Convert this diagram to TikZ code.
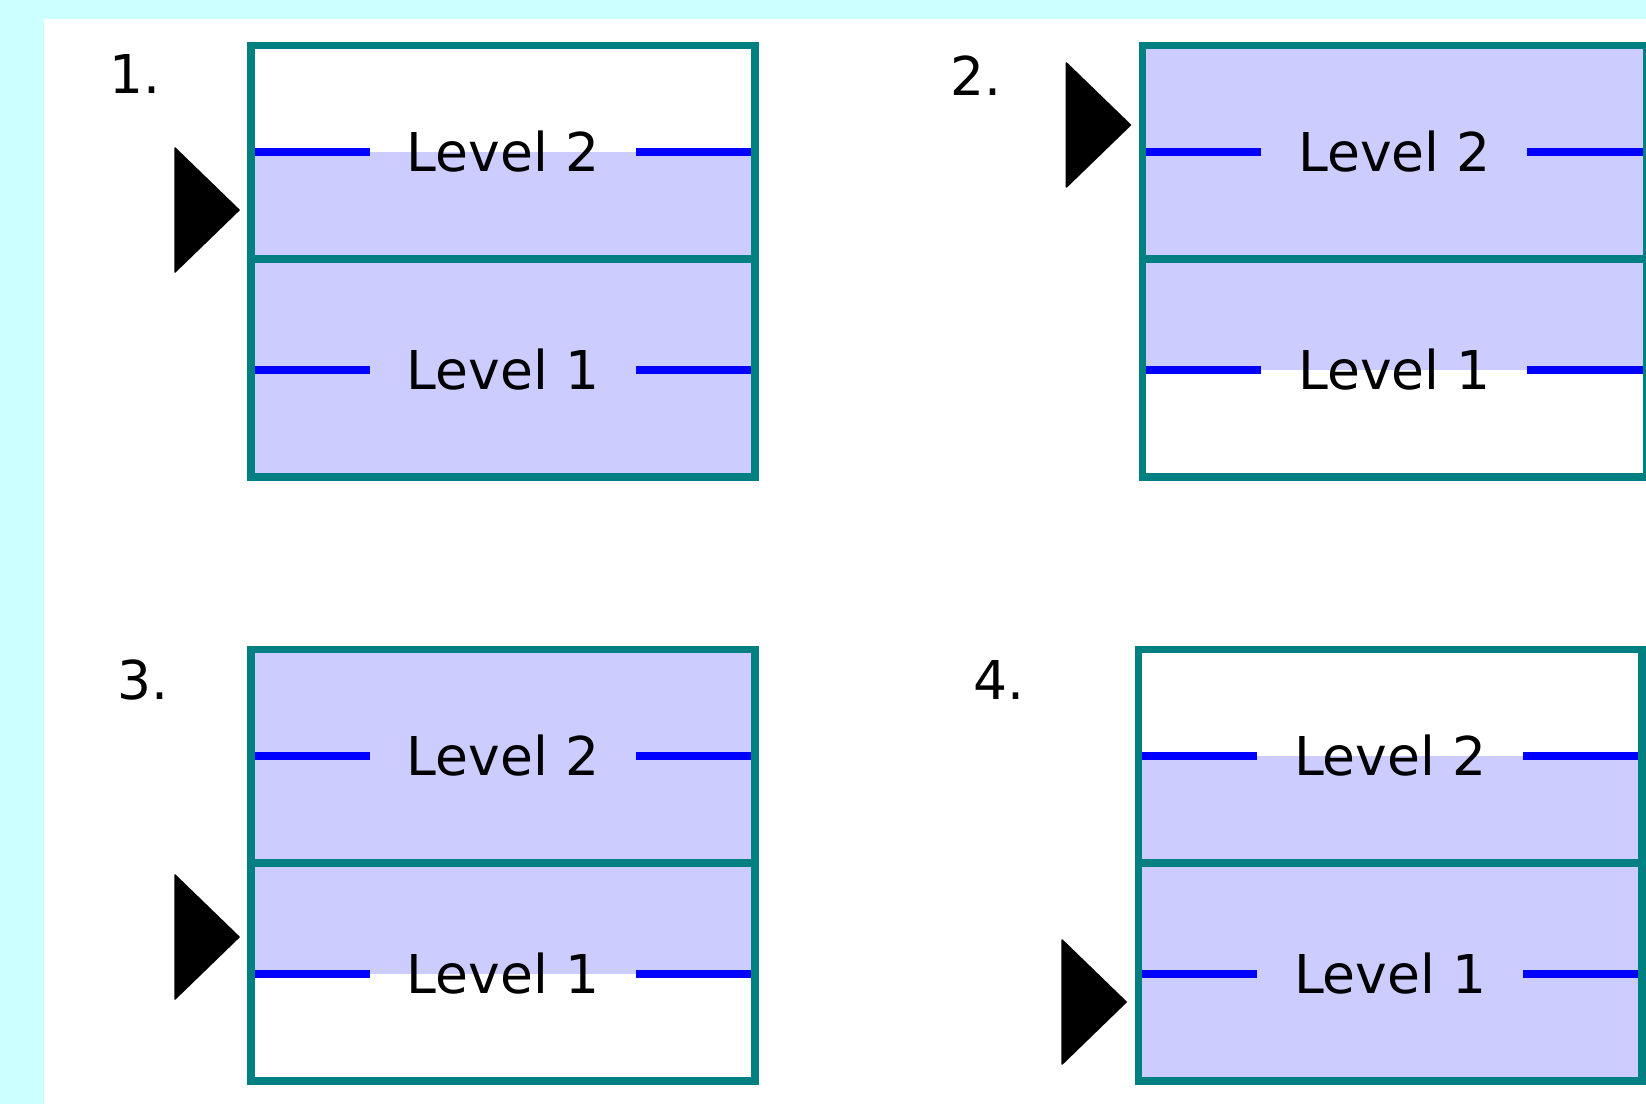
\documentclass[tikz,border=0pt]{standalone}
\usepackage{fontspec}
\setmainfont{DejaVu Sans}
\definecolor{bgcyan}{HTML}{CCFFFF}
\definecolor{tealc}{HTML}{008080}
\definecolor{lilac}{HTML}{CCCCFF}
\definecolor{bluec}{HTML}{0000FF}
\newcommand\panelbox[6]{%
\begin{scope}[shift={(#2,#3)}]
  \fill[lilac] (7.6,#4) rectangle (503.7,#5);
  \draw[levline] (7.6,110.5) -- (122.65,110.5);
  \draw[levline] (388.65,110.5) -- (503.7,110.5);
  \draw[levline] (7.6,328.3) -- (122.65,328.3);
  \draw[levline] (388.65,328.3) -- (503.7,328.3);
  \node[boxnode] (#1-box) at (255.65,219.5) {};
  \draw[boxline] (3.8,217.5) -- (507.5,217.5);
  \node[lvl] (#1-l2) at (255.65,130) {Level 2};
  \node[lvl] (#1-l1) at (255.65,347.8) {Level 1};
  \fill[ptr] (-72.4,#6-62) -- (-8.4,#6) -- (-72.4,#6+62) -- cycle;
\end{scope}}
\begin{document}
\begin{tikzpicture}[x=1pt,y=-1pt,
  boxline/.style={draw=tealc, line width=7.6pt},
  boxnode/.style={draw=tealc, line width=7.6pt, rectangle, inner sep=0pt, outer sep=0pt,
    minimum width=503.7pt, minimum height=431.4pt},
  levline/.style={draw=bluec, line width=7.7pt},
  lvl/.style={font=\fontsize{53.5}{60}\selectfont, inner sep=0pt, anchor=base, text=black},
  num/.style={font=\fontsize{53.5}{60}\selectfont, inner sep=0pt, anchor=base west, text=black},
  ptr/.style={fill=black, draw=black, line width=1.5pt, line join=round}]
  \useasboundingbox (0,0) rectangle (1646,1104);
  \clip (0,0) rectangle (1646,1104);
  \fill[bgcyan] (0,0) rectangle (1646,1104);
  \fill[white] (44.4,19.3) rectangle (1646,1104);
  \panelbox{p1}{247.4}{41.7}{110.5}{431.4}{168.3}
  \panelbox{p2}{1138.8}{41.7}{7.6}{328.3}{83.3}
  \panelbox{p3}{247.4}{645.7}{7.6}{328.3}{291.3}
  \panelbox{p4}{1134.5}{645.7}{110.5}{431.4}{356.3}
  \node[num] (n1) at (109,93) {1.};
  \node[num] (n2) at (950,95) {2.};
  \node[num] (n3) at (117,699) {3.};
  \node[num] (n4) at (973,699) {4.};
\end{tikzpicture}
\end{document}
